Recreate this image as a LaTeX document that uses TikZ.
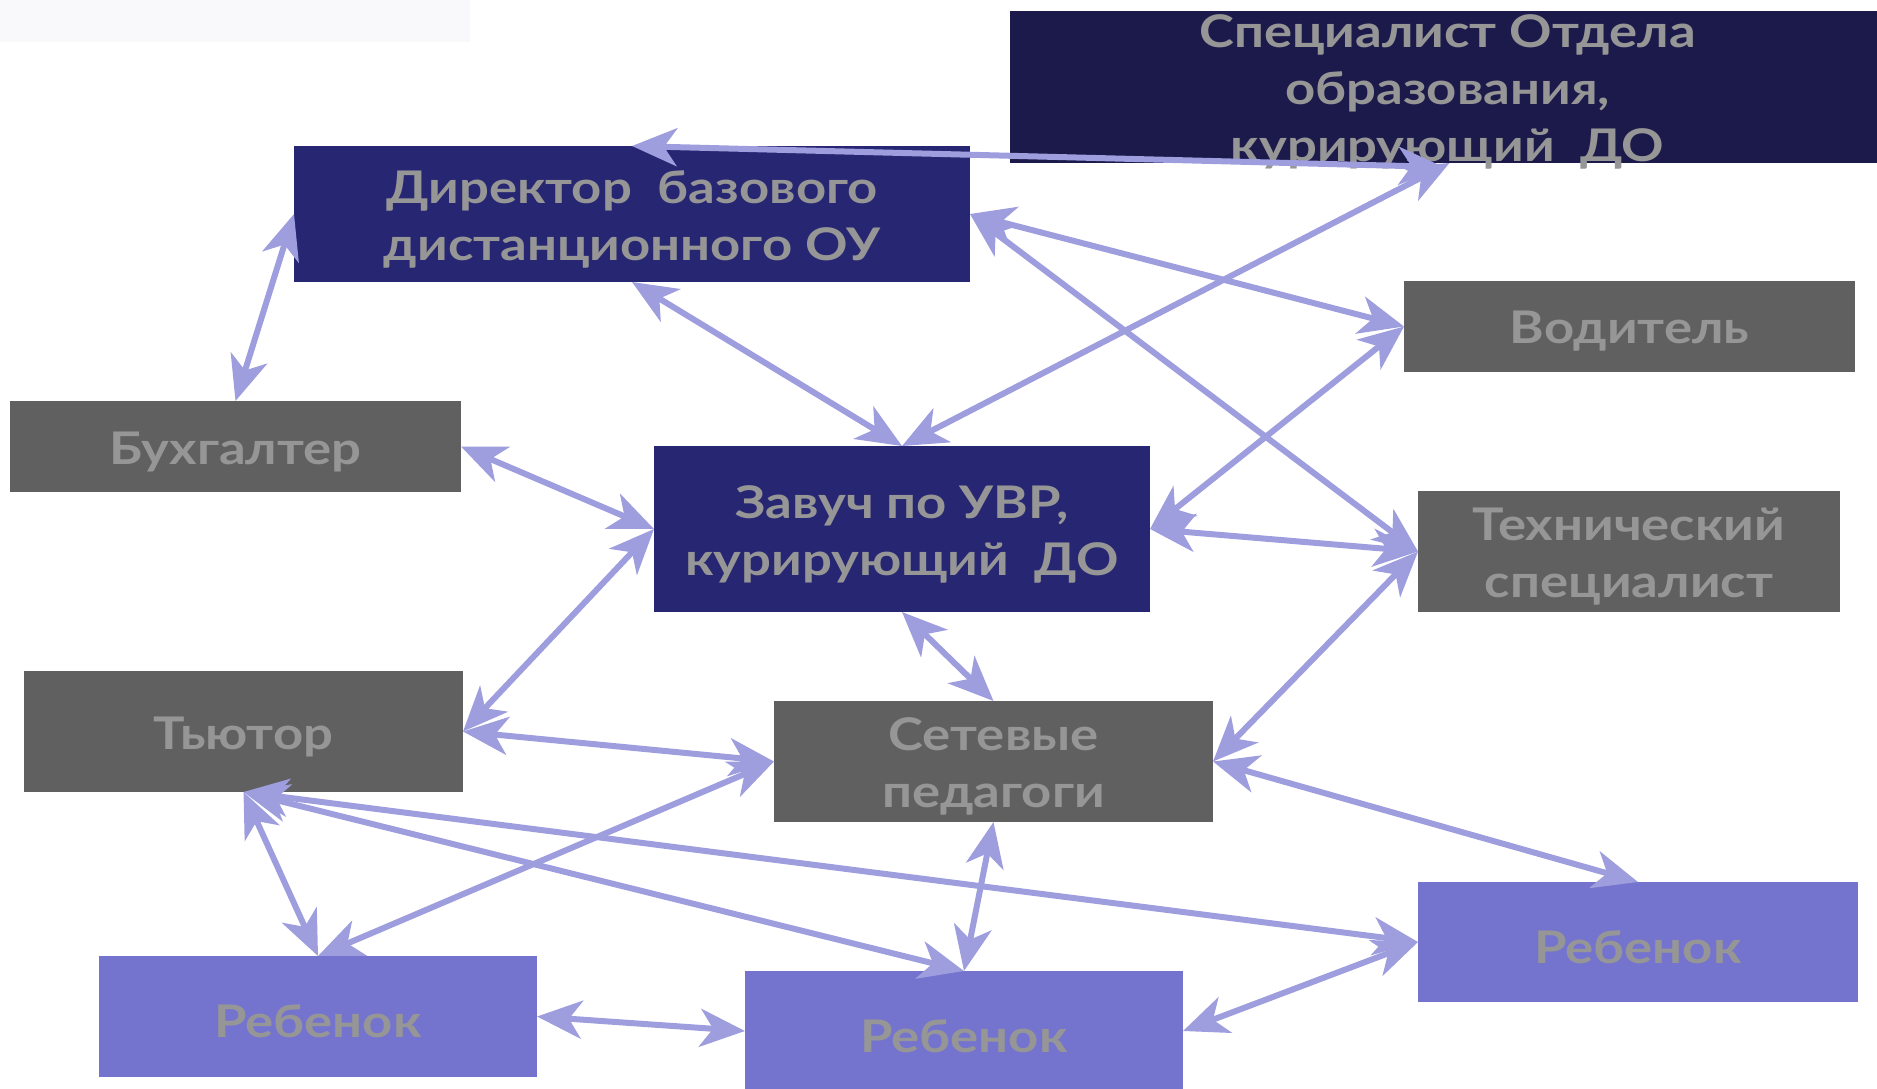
\documentclass[tikz,border=0pt]{standalone}
\usepackage{fontspec}
\setmainfont[FakeStretch=1.17]{Lato}
\usetikzlibrary{arrows.meta}
\definecolor{specc}{RGB}{27,26,75}
\definecolor{navyc}{RGB}{39,38,114}
\definecolor{greyc}{RGB}{96,96,96}
\definecolor{childc}{RGB}{116,116,207}
\definecolor{arrowc}{RGB}{158,158,222}
\definecolor{txtc}{RGB}{150,150,150}
\definecolor{fadec}{RGB}{249,249,251}
\tikzset{
  x=1pt, y=-1pt,
  box/.style={rectangle, inner sep=0pt, outer sep=0pt, draw=none},
  lbl/.style={text=txtc, font=\fontsize{45}{57}\selectfont\bfseries, align=center, inner sep=0pt, yshift=-5pt},
  tipx/.tip={Stealth[length=45pt,width=38pt,inset=13pt]},
  arr/.style={draw=arrowc, line width=6pt, {tipx}-{tipx}},
}
\begin{document}
\begin{tikzpicture}
\useasboundingbox (0,0) rectangle (1877,1089);
\fill[fadec] (0,0) rectangle (470,42);
% boxes
\node[box, fill=specc, minimum width=867pt, minimum height=152pt] (spec) at (1443.5,87) {};
\node[box, fill=navyc, minimum width=676pt, minimum height=136pt] (dir) at (632,214) {};
\node[box, fill=greyc, minimum width=451pt, minimum height=91pt] (buh) at (235.5,446.5) {};
\node[box, fill=navyc, minimum width=496pt, minimum height=166pt] (zav) at (902,529) {};
\node[box, fill=greyc, minimum width=451pt, minimum height=91pt] (vod) at (1629.5,326.5) {};
\node[box, fill=greyc, minimum width=422pt, minimum height=121pt] (teh) at (1629,551.5) {};
\node[box, fill=greyc, minimum width=439pt, minimum height=121pt] (tut) at (243.5,731.5) {};
\node[box, fill=greyc, minimum width=439pt, minimum height=121pt] (set) at (993.5,761.5) {};
\node[box, fill=childc, minimum width=438pt, minimum height=121pt] (r1) at (318,1016.5) {};
\node[box, fill=childc, minimum width=438pt, minimum height=120pt] (r2) at (964,1031) {};
\node[box, fill=childc, minimum width=440pt, minimum height=120pt] (r3) at (1638,942) {};
% labels
\node[lbl] (spect) at ([xshift=4pt]spec.center) {Специалист Отдела\\образования,\\курирующий\ \ ДО};
\node[lbl] (dirt) at (dir.center) {Директор\ \ базового\\дистанционного ОУ};
\node[lbl] (buht) at (buh.center) {Бухгалтер};
\node[lbl] (zavt) at (zav.center) {Завуч по УВР,\\курирующий\ \ ДО};
\node[lbl] (vodt) at (vod.center) {Водитель};
\node[lbl] (teht) at (teh.center) {Технический\\специалист};
\node[lbl] (tutt) at (tut.center) {Тьютор};
\node[lbl] (sett) at (set.center) {Сетевые\\педагоги};
\node[lbl] (r1t) at (r1.center) {Ребенок};
\node[lbl] (r2t) at (r2.center) {Ребенок};
\node[lbl] (r3t) at (r3.center) {Ребенок};
% connectors
\draw[arr] (dir.north) -- ([yshift=-4pt]spec.south);
\draw[arr] (dir.south) -- (zav.north);
\draw[arr] (zav.north) -- ([xshift=6pt]spec.south);
\draw[arr] (dir.west) -- (buh.north);
\draw[arr] (dir.east) -- (vod.west);
\draw[arr] (dir.east) -- (teh.west);
\draw[arr] (buh.east) -- (zav.west);
\draw[arr] (zav.west) -- (tut.east);
\draw[arr] (zav.east) -- (vod.west);
\draw[arr] (zav.east) -- (teh.west);
\draw[arr] (zav.south) -- (set.north);
\draw[arr] (teh.west) -- (set.east);
\draw[arr] (tut.east) -- (set.west);
\draw[arr] (set.west) -- (r1.north);
\draw[arr] (set.east) -- (r3.north);
\draw[arr] (set.south) -- (r2.north);
\draw[arr] (tut.south) -- (r1.north);
\draw[arr] (tut.south) -- (r2.north);
\draw[arr] (tut.south) -- (r3.west);
\draw[arr] (r1.east) -- (r2.west);
\draw[arr] (r2.east) -- (r3.west);
\end{tikzpicture}
\end{document}
